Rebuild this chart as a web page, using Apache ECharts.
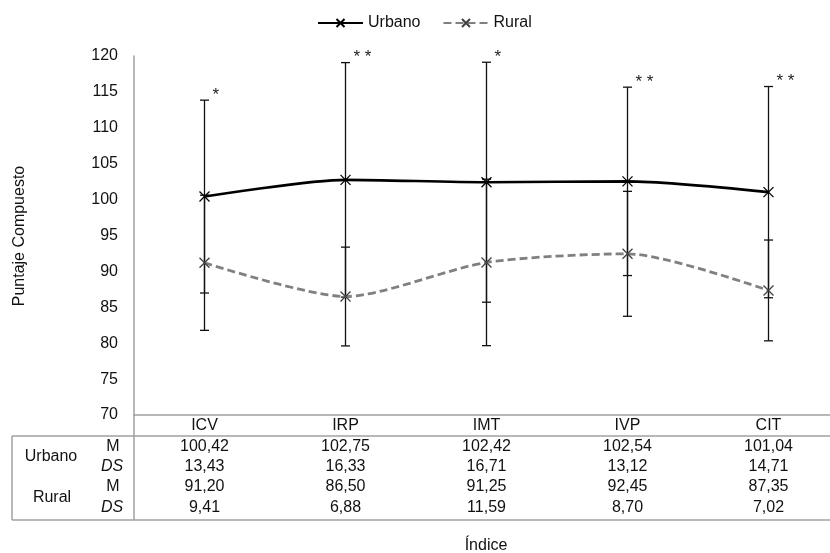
<!DOCTYPE html>
<html>
<head>
<meta charset="utf-8">
<script src="https://cdn.jsdelivr.net/npm/echarts@6/dist/echarts.min.js"></script>
<style>html,body{margin:0;padding:0;background:#fff}#c{width:830px;height:553px}</style>
</head>
<body>
<div id="c"></div>
<script>
const categories = ['ICV', 'IRP', 'IMT', 'IVP', 'CIT'];
const urbanoM = [100.42, 102.75, 102.42, 102.54, 101.04];
const urbanoDS = [13.43, 16.33, 16.71, 13.12, 14.71];
const ruralM = [91.20, 86.50, 91.25, 92.45, 87.35];
const ruralDS = [9.41, 6.88, 11.59, 8.70, 7.02];
const significance = ['*', '* *', '*', '* *', '* *'];
const yMin = 70, yMax = 120, yStep = 5;

const FONT = "'Liberation Sans', Arial, sans-serif";
const fmt = v => v.toFixed(2).replace('.', ',');
const tableRows = [urbanoM, urbanoDS, ruralM, ruralDS];
const rowOffsets = [21, 41, 61, 82];
const gray = '#a0a0a0';

const chart = echarts.init(document.getElementById('c'));

function errData(m, s, withSig) {
  return m.map((v, i) => [i, v - s[i], v + s[i], withSig ? significance[i] : '']);
}

function renderErr(params, api) {
  const i = api.value(0);
  const lo = api.coord([i, api.value(1)]);
  const hi = api.coord([i, api.value(2)]);
  const w = 4.5;
  const st = { stroke: '#111', lineWidth: 1.3 };
  const children = [
    { type: 'line', shape: { x1: lo[0], y1: lo[1], x2: hi[0], y2: hi[1] }, style: st },
    { type: 'line', shape: { x1: lo[0] - w, y1: lo[1], x2: lo[0] + w, y2: lo[1] }, style: st },
    { type: 'line', shape: { x1: hi[0] - w, y1: hi[1], x2: hi[0] + w, y2: hi[1] }, style: st }
  ];
  const sig = api.value(3);
  if (sig) {
    children.push({
      type: 'text',
      style: { text: sig, x: hi[0] + 8, y: hi[1] - 5, fill: '#222', font: '17px ' + FONT, align: 'left', verticalAlign: 'middle' }
    });
  }
  return { type: 'group', children };
}

const xMark = 'path://M0,0L10,10M0,10L10,0';

const xAxes = [{
  type: 'category', data: categories, gridIndex: 0, position: 'bottom', offset: 0,
  axisLine: { show: true, lineStyle: { color: gray, width: 1.5 } },
  axisTick: { show: false },
  axisLabel: { color: '#111', fontSize: 16, fontFamily: FONT, margin: 3, interval: 0 }
}];
tableRows.forEach((row, r) => {
  xAxes.push({
    type: 'category', data: categories, gridIndex: 0, position: 'bottom', offset: rowOffsets[r],
    axisLine: { show: false }, axisTick: { show: false }, splitLine: { show: false },
    axisLabel: { color: '#111', fontSize: 16, fontFamily: FONT, margin: 3, interval: 0,
      formatter: (v, i) => fmt(row[i]) }
  });
});

const headerTexts = [
  ['Urbano', 51, 457, 'normal'],
  ['M', 113, 447, 'normal'],
  ['DS', 112, 467, 'italic'],
  ['Rural', 52, 498, 'normal'],
  ['M', 113, 487, 'normal'],
  ['DS', 112, 508, 'italic']
].map(([t, x, y, s]) => ({
  type: 'text', x, y,
  style: { text: t, font: s + ' 16px ' + FONT, fill: '#111', align: 'center', verticalAlign: 'middle' }
}));

chart.setOption({
  animation: false,
  backgroundColor: '#fff',
  textStyle: { fontFamily: FONT },
  legend: {
    left: 312, top: 10,
    itemWidth: 45, itemHeight: 10, itemGap: 22,
    textStyle: { fontSize: 16, color: '#111', fontFamily: FONT },
    data: ['Urbano', 'Rural']
  },
  grid: { left: 134, top: 56, width: 705, bottom: 138, containLabel: false, outerBoundsMode: 'none' },
  xAxis: xAxes,
  yAxis: {
    type: 'value', min: yMin, max: yMax, interval: yStep,
    axisLine: { show: true, lineStyle: { color: gray, width: 1.5 } },
    axisTick: { show: false },
    splitLine: { show: false },
    axisLabel: { color: '#111', fontSize: 16, fontFamily: FONT, margin: 16 }
  },
  series: [
    {
      name: 'Urbano', type: 'line', data: urbanoM, smooth: 0.25,
      lineStyle: { color: '#000', width: 2.6 },
      symbol: xMark, symbolSize: 10,
      itemStyle: { color: '#000', borderColor: '#000', borderWidth: 1.3 },
      z: 3
    },
    {
      name: 'Rural', type: 'line', data: ruralM, smooth: 0.25,
      lineStyle: { color: '#808080', width: 2.8, type: [8, 4] },
      symbol: xMark, symbolSize: 10,
      itemStyle: { color: '#404040', borderColor: '#404040', borderWidth: 1.3 },
      z: 3
    },
    {
      type: 'custom', renderItem: renderErr, data: errData(urbanoM, urbanoDS, true),
      encode: { x: 0, y: [1, 2] }, silent: true, z: 2
    },
    {
      type: 'custom', renderItem: renderErr, data: errData(ruralM, ruralDS, false),
      encode: { x: 0, y: [1, 2] }, silent: true, z: 2
    }
  ],
  graphic: [
    { type: 'line', shape: { x1: 134, y1: 415, x2: 134, y2: 520 }, style: { stroke: gray, lineWidth: 1.5 } },
    { type: 'line', shape: { x1: 12, y1: 436, x2: 830, y2: 436 }, style: { stroke: gray, lineWidth: 1.5 } },
    { type: 'line', shape: { x1: 12, y1: 520, x2: 830, y2: 520 }, style: { stroke: gray, lineWidth: 1.5 } },
    { type: 'line', shape: { x1: 12, y1: 436, x2: 12, y2: 520 }, style: { stroke: gray, lineWidth: 1.5 } },
    ...headerTexts,
    { type: 'text', x: 486, y: 546, style: { text: 'Índice', font: '16px ' + FONT, fill: '#111', align: 'center', verticalAlign: 'middle' } },
    { type: 'text', x: 20, y: 236, rotation: Math.PI / 2,
      style: { text: 'Puntaje Compuesto', font: '16px ' + FONT, fill: '#111', align: 'center', verticalAlign: 'middle' } }
  ]
});
</script>
</body>
</html>
